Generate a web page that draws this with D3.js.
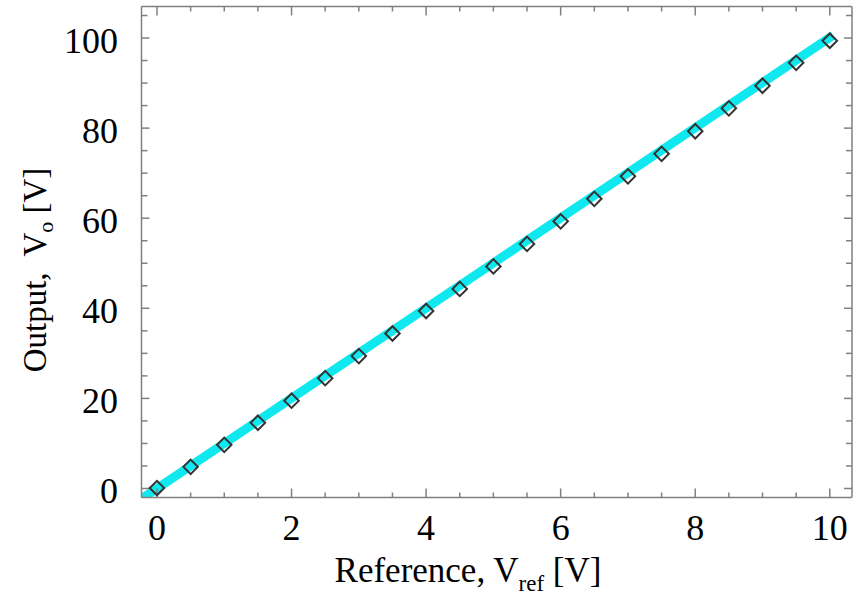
<!DOCTYPE html>
<html><head><meta charset="utf-8">
<script src="https://cdn.jsdelivr.net/npm/d3@7"></script>
<style>body{margin:0;background:#fff}svg{display:block}</style>
</head><body>
<svg id="chart" width="853" height="596"></svg>
<script>
const refV = [0,0.5,1,1.5,2,2.5,3,3.5,4,4.5,5,5.5,6,6.5,7,7.5,8,8.5,9,9.5,10];
const outV = [0.1,4.8,9.7,14.6,19.5,24.5,29.4,34.4,39.4,44.3,49.3,54.3,59.3,64.3,69.3,74.3,79.3,84.4,89.4,94.5,99.4];
const fitX = [-0.4, 10.05];
const fitY = [-4.0, 100.6];
const xTicks = [0,2,4,6,8,10];
const yTicks = [0,20,40,60,80,100];

const svg = d3.select("#chart");
const L = 141.5, R = 852, T = 6.5, B = 497.5;
const x = d3.scaleLinear().domain([-0.23, 10.33]).range([L, R]);
const y = d3.scaleLinear().domain([-2, 107]).range([B, T]);
const font = "'Liberation Serif','Times New Roman',serif";
const axisColor = "#808080";

svg.append("clipPath").attr("id","clip").append("rect")
  .attr("x",L).attr("y",T).attr("width",R-L).attr("height",B-T);

// fit line
svg.append("path").attr("clip-path","url(#clip)")
  .datum(fitX.map((d,i)=>[d,fitY[i]]))
  .attr("d", d3.line().x(d=>x(d[0])).y(d=>y(d[1])))
  .attr("stroke","#10e8f0").attr("stroke-width",9).attr("fill","none");

// axes
const minorX = d3.range(0, 10.01, 0.5);
const minorY = d3.range(-0, 106, 5);
const g = svg.append("g").attr("stroke",axisColor).attr("stroke-width",1.5);
g.append("line").attr("x1",L).attr("x2",R).attr("y1",B).attr("y2",B);
g.append("line").attr("x1",L).attr("x2",R).attr("y1",T).attr("y2",T);
g.append("line").attr("x1",L).attr("x2",L).attr("y1",T).attr("y2",B);
g.append("line").attr("x1",R).attr("x2",R).attr("y1",T).attr("y2",B);
minorX.forEach(v=>{
  const major = xTicks.includes(v);
  const len = major ? 9 : 5;
  g.append("line").attr("x1",x(v)).attr("x2",x(v)).attr("y1",B).attr("y2",B-len);
  g.append("line").attr("x1",x(v)).attr("x2",x(v)).attr("y1",T).attr("y2",T+len);
});
minorY.forEach(v=>{
  const major = yTicks.includes(v);
  const len = major ? 8 : 6;
  g.append("line").attr("y1",y(v)).attr("y2",y(v)).attr("x1",L).attr("x2",L+len);
  g.append("line").attr("y1",y(v)).attr("y2",y(v)).attr("x1",R).attr("x2",R-len);
});

// tick labels
svg.append("g").selectAll("text").data(xTicks).join("text")
  .attr("x",d=>x(d)).attr("y",540).attr("text-anchor","middle")
  .attr("font-family",font).attr("font-size",36).attr("fill","#000").text(d=>d);
svg.append("g").selectAll("text").data(yTicks).join("text")
  .attr("x",118).attr("y",d=>y(d)+15).attr("text-anchor","end")
  .attr("font-family",font).attr("font-size",36).attr("fill","#000").text(d=>d);

// markers
const sym = d3.symbol().type(d3.symbolSquare).size(105);
svg.append("g").selectAll("path").data(refV).join("path")
  .attr("transform",(d,i)=>`translate(${x(d)},${y(outV[i])}) rotate(45)`)
  .attr("d",sym).attr("fill","none").attr("stroke","#333").attr("stroke-width",2);

// axis titles
const xt = svg.append("text").attr("x",468).attr("y",582).attr("text-anchor","middle")
  .attr("font-family",font).attr("font-size",35).attr("fill","#000");
xt.append("tspan").text("Reference, V");
xt.append("tspan").attr("font-size",23).attr("dy",9).text("ref");
xt.append("tspan").attr("dy",-9).text(" [V]");

const yt = svg.append("text").attr("transform","translate(46,270) rotate(-90)")
  .attr("text-anchor","middle").attr("font-family",font).attr("font-size",33).attr("fill","#000")
  .attr("xml:space","preserve");
yt.append("tspan").text("Output,  V");
yt.append("tspan").attr("font-size",22).attr("dy",7).text("o");
yt.append("tspan").attr("dy",-7).text(" [V]");
</script>
</body></html>
